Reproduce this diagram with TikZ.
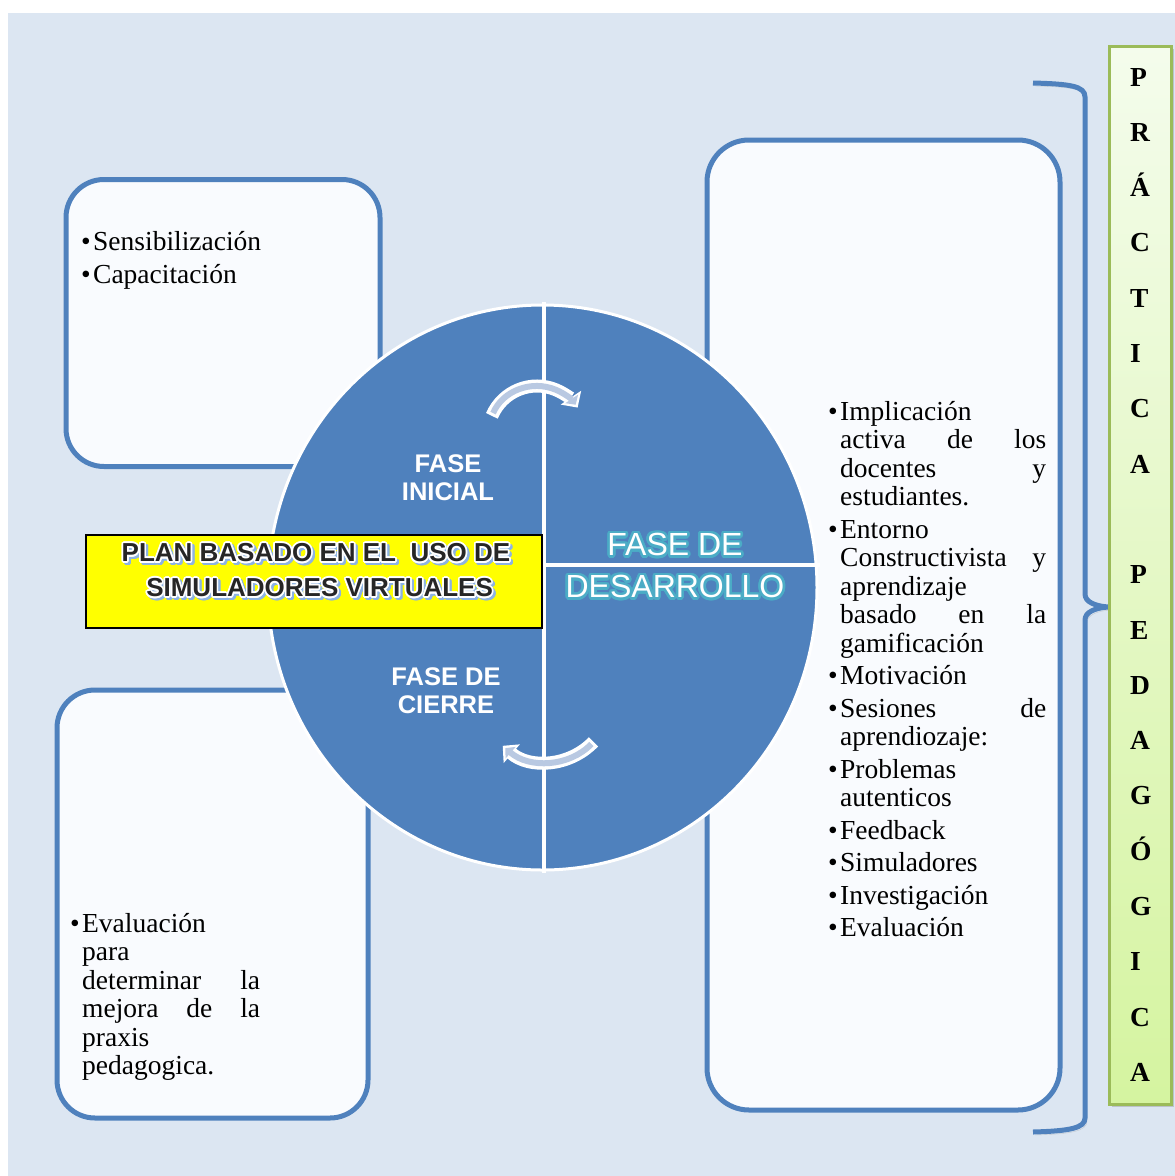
\documentclass[tikz,border=0pt]{standalone}
\usepackage{fontspec}
\setmainfont{Liberation Serif}
\newfontfamily\arialfam{Liberation Sans}
\usepackage{contour}
\usetikzlibrary{arrows.meta, shadows}

\definecolor{bgblue}{HTML}{DCE6F2}
\definecolor{phaseblue}{HTML}{4F81BD}
\definecolor{panelfill}{HTML}{F9FBFE}
\definecolor{arrowfill}{HTML}{B9C9E2}
\definecolor{glowteal}{HTML}{4BACC6}
\definecolor{plandark}{HTML}{262626}
\definecolor{planshadow}{HTML}{8DB3E2}
\definecolor{planyellow}{HTML}{FFFF00}
\definecolor{bargreen}{HTML}{9BBB59}
\definecolor{bartop}{HTML}{F4FCEC}
\definecolor{barbottom}{HTML}{D5F4A0}

\newcommand{\bul}{\leavevmode\llap{•\hspace{2.5pt}}}
\newcommand{\just}[2]{\makebox[#1][s]{\spaceskip=.3333em plus 1fil\relax #2}}
\newcommand{\glow}[1]{{\contourlength{2.6pt}\contour{glowteal}{#1}}}
\newcommand{\plantxt}[1]{{\contourlength{1.6pt}\makebox[0pt][l]{\hspace{2.2pt}\raisebox{-2.2pt}{\color{planshadow}\contour{planshadow}{#1}}}\contour{white}{#1}}}

\begin{document}
\begin{tikzpicture}[
    x=1pt, y=-1pt,
    panel/.style={draw=phaseblue, line width=5pt, fill=panelfill, rounded corners=38pt, inner sep=0pt},
    bodytext/.style={font=\fontsize{27.5}{28.5}\selectfont, anchor=base west, align=left, inner sep=0pt},
    phase/.style={font=\arialfam\bfseries\fontsize{25.5}{28}\selectfont, text=white, align=center, inner sep=0pt},
    cycout/.style={white, line width=13pt, -{Triangle[length=12pt, width=24pt]}},
    cycin/.style={arrowfill, line width=6pt, shorten >=3.5pt, shorten <=3pt, -{Triangle[length=7pt, width=15pt]}},
    letter/.style={font=\bfseries\fontsize{27.5}{30}\selectfont, anchor=base west, inner sep=0pt},
    brace/.style={phaseblue, line width=5pt},
]

\useasboundingbox (0,0) rectangle (1175,1176);
\fill[white] (0,0) rectangle (1175,1176);
\fill[bgblue] (8,13) rectangle (1175,1176);

% side panels
\node[panel, minimum width=314pt, minimum height=287pt] (inicial) at (223,323) {};
\node[panel, minimum width=311pt, minimum height=428pt] (cierre) at (212.5,904) {};
\node[panel, minimum width=353pt, minimum height=970pt, rounded corners=42pt] (desarrollo) at (883.5,625) {};

% cycle
\filldraw[fill=phaseblue, draw=white, line width=3pt] (542.5,587.5) ellipse [x radius=274.5pt, y radius=282.5pt];
\draw[white, line width=4pt] (544,302) -- (544,873);
\draw[white, line width=4pt] (544,565) -- (820,565);

% cycle arrows
\draw[cycout] ([shift={(157:49pt)}]537,435) arc[start angle=157, end angle=34, radius=49pt];
\draw[cycin]  ([shift={(157:49pt)}]537,435) arc[start angle=157, end angle=34, radius=49pt];
\draw[cycout] ([shift={(-44:66pt)}]546,696) arc[start angle=-44, end angle=-131, radius=66pt];
\draw[cycin]  ([shift={(-44:66pt)}]546,696) arc[start angle=-44, end angle=-131, radius=66pt];

% phase labels
\node[phase] (ini) at (448,478) {FASE\\INICIAL};
\node[phase] (cie) at (446,691) {FASE DE\\CIERRE};
\node[font=\arialfam\fontsize{32}{42}\selectfont, text=white, align=center, inner sep=0pt] (des) at (675,567) {\glow{FASE DE}\\\glow{DESARROLLO}};

% plan title
\node[draw=black, line width=2.5pt, fill=planyellow, minimum width=456pt, minimum height=93pt, inner sep=0pt] (plan) at (314,581.5) {};
\node[font=\arialfam\bfseries\fontsize{26}{35}\selectfont, text=plandark, align=center, inner sep=0pt] (plantitle) at (316,572) {\plantxt{PLAN BASADO EN EL\ \ USO DE}\\\plantxt{\ SIMULADORES VIRTUALES}};

% panel texts
\node[bodytext, text width=180pt] (initxt) at (93,250) {\bul Sensibilización\\[4.5pt]\bul Capacitación};
\node[bodytext, text width=178pt] (cietxt) at (82,932) {\bul Evaluación\\
para\\
\just{178pt}{determinar la}\\
\just{178pt}{mejora de la}\\
praxis\\
pedagogica.};
\node[bodytext, text width=206pt] (destxt) at (840,420) {\bul Implicación\\
\just{206pt}{activa de los}\\
\just{206pt}{docentes y}\\
estudiantes.\\[4pt]
\bul Entorno\\
\just{206pt}{Constructivista y}\\
aprendizaje\\
\just{206pt}{basado en la}\\
gamificación\\[4pt]
\bul Motivación\\[4pt]
\just{206pt}{\bul Sesiones de}\\
aprendiozaje:\\[4pt]
\bul Problemas\\
autenticos\\[4pt]
\bul Feedback\\[4pt]
\bul Simuladores\\[4pt]
\bul Investigación\\[4pt]
\bul Evaluación};

% brace
\draw[brace, preaction={draw, gray, opacity=0.3, transform canvas={shift={(2pt,-3pt)}}}]
    (1033,83) .. controls (1070,84) and (1085,86) .. (1085,97) -- (1085,594)
    .. controls (1085,602) and (1095,606) .. (1108,607)
    .. controls (1095,608) and (1085,612) .. (1085,620) -- (1085,1118)
    .. controls (1085,1128) and (1070,1131) .. (1033,1132);

% vertical label
\node[draw=bargreen, line width=3pt, top color=bartop, bottom color=barbottom,
      minimum width=62pt, minimum height=1058pt, inner sep=0pt,
      drop shadow={shadow xshift=3pt, shadow yshift=-3pt, opacity=0.35}] (bar) at (1140,575) {};
\foreach \ch [count=\i from 0] in {P,R,Á,C,T,I,C,A,{},P,E,D,A,G,Ó,G,I,C,A}
    \node[letter] (ltr\i) at (1130,{86+55.3*\i}) {\ch};

\end{tikzpicture}
\end{document}
